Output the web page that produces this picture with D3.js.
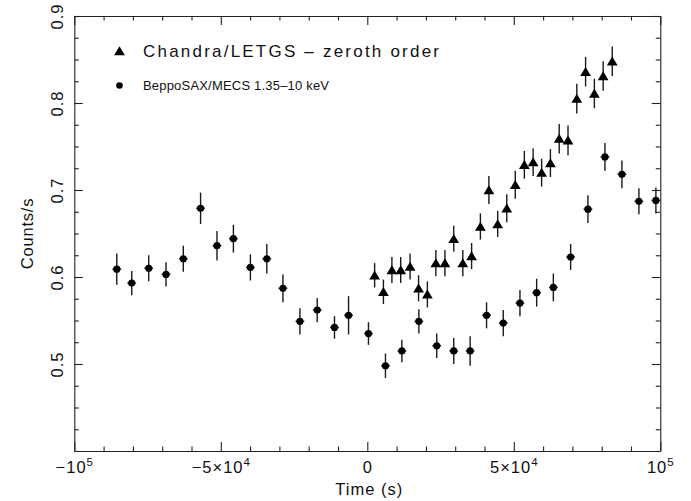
<!DOCTYPE html>
<html>
<head>
<meta charset="utf-8">
<script src="https://cdn.jsdelivr.net/npm/d3@7"></script>
<style>
  html, body { margin: 0; padding: 0; background: #fff; }
  svg { display: block; }
  text { font-family: "Liberation Sans", Arial, Helvetica, sans-serif; fill: #111; }
</style>
</head>
<body>
<svg id="chart" width="691" height="501"></svg>
<script>
// ---- data (time in s, rate in counts/s) ----
const chandraTime = [2500, 5500, 8400, 11400, 14600, 17500, 20500, 23400, 26500, 29500,
  32600, 35600, 38600, 41500, 44500, 47600, 50500, 53600, 56600, 59500,
  62500, 65500, 68500, 71500, 74500, 77500, 80500, 83600];
const chandraRate = [0.602, 0.583, 0.608, 0.608, 0.612, 0.587, 0.580, 0.616, 0.616, 0.644,
  0.616, 0.624, 0.658, 0.700, 0.661, 0.679, 0.706, 0.729, 0.732, 0.720,
  0.731, 0.759, 0.757, 0.805, 0.836, 0.811, 0.831, 0.848];
const chandraErr = [0.014, 0.014, 0.015, 0.015, 0.015, 0.015, 0.015, 0.015, 0.015, 0.015,
  0.015, 0.015, 0.015, 0.016, 0.015, 0.016, 0.016, 0.016, 0.016, 0.016,
  0.016, 0.017, 0.017, 0.017, 0.017, 0.017, 0.017, 0.017];

const saxTime = [-85500, -80400, -74600, -68700, -62800, -56900, -51300, -45700, -39900, -34300,
  -28800, -23000, -17100, -11200, -6400, 400, 6200, 11800, 17600, 23700,
  29500, 35100, 40700, 46400, 52100, 57800, 63500, 69400, 75300, 81100,
  86900, 92700, 98500];
const saxRate = [0.609, 0.593, 0.610, 0.603, 0.621, 0.679, 0.636, 0.644, 0.611, 0.621,
  0.587, 0.549, 0.562, 0.542, 0.556, 0.535, 0.498, 0.515, 0.549, 0.521,
  0.515, 0.515, 0.556, 0.547, 0.570, 0.582, 0.588, 0.623, 0.678, 0.738,
  0.718, 0.687, 0.688];
const saxErr = [0.018, 0.014, 0.015, 0.014, 0.015, 0.018, 0.017, 0.016, 0.015, 0.017,
  0.016, 0.015, 0.014, 0.013, 0.022, 0.013, 0.014, 0.013, 0.014, 0.014,
  0.015, 0.017, 0.015, 0.015, 0.015, 0.016, 0.016, 0.015, 0.016, 0.016,
  0.016, 0.015, 0.015];

const xMajorTicks = [-1e5, -5e4, 0, 5e4, 1e5];
const xTickLabels = [["−10", "5"], ["−5×10", "4"], ["0", ""], ["5×10", "4"], ["10", "5"]];
const yMajorTicks = [0.5, 0.6, 0.7, 0.8, 0.9];
const yTickLabels = ["0.5", "0.6", "0.7", "0.8", "0.9"];
const legendLabels = ["Chandra/LETGS – zeroth order", "BeppoSAX/MECS 1.35–10 keV"];

// ---- layout ----
const L = 74.3, R = 660.3, T = 16, B = 451;
const svg = d3.select("#chart");
const x = d3.scaleLinear().domain([-1e5, 1e5]).range([L, R]);
const y = d3.scaleLinear().domain([0.4, 0.9]).range([B, T]);

const xMinor = d3.range(-1e5, 1e5 + 1, 1e4).filter(v => !xMajorTicks.includes(v));
const yMinor = d3.range(0.4, 0.9001, 0.025).map(v => +v.toFixed(3)).filter(v => !yMajorTicks.some(m => Math.abs(m - v) < 1e-6));

function styleAxis(g) {
  g.selectAll("path.domain").attr("stroke", "#222").attr("stroke-width", 1.1);
  g.selectAll(".tick line").attr("stroke", "#222").attr("stroke-width", 1.1);
}

// minor ticks
svg.append("g").attr("transform", `translate(0,${B})`)
  .call(d3.axisBottom(x).tickValues(xMinor).tickSize(-4.5).tickFormat(""))
  .call(g => g.select(".domain").remove()).call(styleAxis);
svg.append("g").attr("transform", `translate(0,${T})`)
  .call(d3.axisTop(x).tickValues(xMinor).tickSize(-4.5).tickFormat(""))
  .call(g => g.select(".domain").remove()).call(styleAxis);
svg.append("g").attr("transform", `translate(${L},0)`)
  .call(d3.axisLeft(y).tickValues(yMinor).tickSize(-4.5).tickFormat(""))
  .call(g => g.select(".domain").remove()).call(styleAxis);
svg.append("g").attr("transform", `translate(${R},0)`)
  .call(d3.axisRight(y).tickValues(yMinor).tickSize(-4.5).tickFormat(""))
  .call(g => g.select(".domain").remove()).call(styleAxis);

// major ticks + frame
const gx = svg.append("g").attr("transform", `translate(0,${B})`)
  .call(d3.axisBottom(x).tickValues(xMajorTicks).tickSize(-9).tickSizeOuter(0).tickFormat(""))
  .call(styleAxis);
svg.append("g").attr("transform", `translate(0,${T})`)
  .call(d3.axisTop(x).tickValues(xMajorTicks).tickSize(-9).tickSizeOuter(0).tickFormat(""))
  .call(styleAxis);
const gy = svg.append("g").attr("transform", `translate(${L},0)`)
  .call(d3.axisLeft(y).tickValues(yMajorTicks).tickSize(-8.5).tickSizeOuter(0).tickFormat(""))
  .call(styleAxis);
svg.append("g").attr("transform", `translate(${R},0)`)
  .call(d3.axisRight(y).tickValues(yMajorTicks).tickSize(-8.5).tickSizeOuter(0).tickFormat(""))
  .call(styleAxis);

// x tick labels with superscripts
gx.selectAll(".tick").each(function(d, i) {
  const parts = xTickLabels[i];
  const t = d3.select(this).append("text")
    .attr("y", 22).attr("text-anchor", "middle")
    .style("font-size", "16.5px").style("letter-spacing", "1px");
  t.append("tspan").text(parts[0]);
  if (parts[1]) t.append("tspan").attr("dy", "-7").style("font-size", "11.5px").text(parts[1]);
});

// y tick labels rotated
gy.selectAll(".tick").each(function(d, i) {
  d3.select(this).append("text")
    .attr("transform", "translate(-11,0) rotate(-90)")
    .attr("text-anchor", "middle")
    .style("font-size", "16.5px").style("letter-spacing", "1px")
    .text(yTickLabels[i]);
});

// axis titles
svg.append("text").attr("x", (L + R) / 2 + 2).attr("y", 495)
  .attr("text-anchor", "middle").style("font-size", "16.5px").style("letter-spacing", "1px")
  .text("Time (s)");
svg.append("text").attr("transform", `translate(33,${y(0.65)}) rotate(-90)`)
  .attr("text-anchor", "middle").style("font-size", "16.5px").style("letter-spacing", "0.8px")
  .text("Counts/s");

// ---- data marks ----
const triPath = "M0,-4.8L5.4,4.2L-5.4,4.2Z";
const errColor = "#1a1a1a";

const cData = chandraTime.map((t, i) => ({t, r: chandraRate[i], e: chandraErr[i]}));
const sData = saxTime.map((t, i) => ({t, r: saxRate[i], e: saxErr[i]}));

const gS = svg.append("g");
gS.selectAll("line.ey").data(sData).join("line")
  .attr("x1", d => x(d.t)).attr("x2", d => x(d.t))
  .attr("y1", d => y(d.r - d.e)).attr("y2", d => y(d.r + d.e))
  .attr("stroke", errColor).attr("stroke-width", 1.4);
gS.selectAll("line.ex").data(sData).join("line")
  .attr("x1", d => x(d.t - 1500)).attr("x2", d => x(d.t + 1500))
  .attr("y1", d => y(d.r)).attr("y2", d => y(d.r))
  .attr("stroke", errColor).attr("stroke-width", 1.4);
gS.selectAll("circle").data(sData).join("circle")
  .attr("cx", d => x(d.t)).attr("cy", d => y(d.r)).attr("r", 3.6).attr("fill", "#000");

const gC = svg.append("g");
gC.selectAll("line.ey").data(cData).join("line")
  .attr("x1", d => x(d.t)).attr("x2", d => x(d.t))
  .attr("y1", d => y(d.r - d.e)).attr("y2", d => y(d.r + d.e))
  .attr("stroke", errColor).attr("stroke-width", 1.4);
gC.selectAll("path").data(cData).join("path")
  .attr("d", triPath)
  .attr("transform", d => `translate(${x(d.t)},${y(d.r)})`).attr("fill", "#000");

// ---- legend ----
const lg = svg.append("g");
lg.append("path").attr("d", triPath).attr("transform", "translate(119.5,51)").attr("fill", "#000");
lg.append("text").attr("x", 143).attr("y", 57).style("font-size", "17px")
  .attr("textLength", 296).attr("lengthAdjust", "spacing").text(legendLabels[0]);
lg.append("circle").attr("cx", 119.5).attr("cy", 85.5).attr("r", 3.3).attr("fill", "#000");
lg.append("text").attr("x", 143).attr("y", 90).style("font-size", "13px")
  .attr("textLength", 186).attr("lengthAdjust", "spacing").text(legendLabels[1]);
</script>
</body>
</html>
